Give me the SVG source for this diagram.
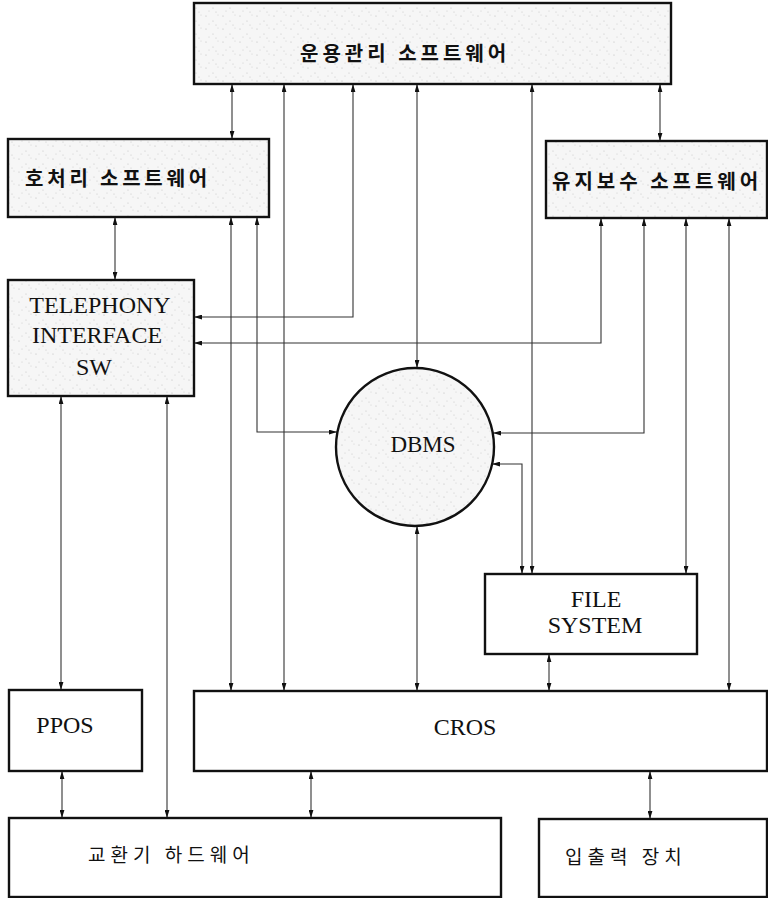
<svg xmlns="http://www.w3.org/2000/svg" width="768" height="898" viewBox="0 0 768 898">
<style>
.box{fill:#fff;stroke:#111;stroke-width:2.4}
.dot{fill:url(#stip);stroke:#111;stroke-width:2.4}
.ln{fill:none;stroke:#333;stroke-width:1.1;marker-start:url(#ah);marker-end:url(#ah)}
.en{font-family:"Liberation Serif","Times New Roman",serif;font-size:24px;fill:#111;text-anchor:middle}
.kb{font-family:"Noto Sans CJK KR",sans-serif;font-size:20px;font-weight:700;fill:#111;letter-spacing:4px}
.kr{font-family:"Noto Sans CJK KR",sans-serif;font-size:19px;font-weight:400;fill:#111;letter-spacing:5px}
</style>
<defs>
<pattern id="stip" width="17" height="13" patternUnits="userSpaceOnUse">
<rect width="17" height="13" fill="#f6f6f6"/>
<circle cx="2" cy="3" r="0.6" fill="#bbb"/>
<circle cx="9" cy="8" r="0.6" fill="#c4c4c4"/>
<circle cx="14" cy="2" r="0.5" fill="#ccc"/>
<circle cx="5" cy="11" r="0.5" fill="#c8c8c8"/>
<circle cx="12" cy="12" r="0.5" fill="#bdbdbd"/>
</pattern>
<marker id="ah" viewBox="0 0 10 6" refX="10" refY="3" markerWidth="8" markerHeight="5" markerUnits="userSpaceOnUse" orient="auto-start-reverse">
<path d="M0,0 L10,3 L0,6 Z" fill="#111"/>
</marker>
</defs>
<g id="connectors">
<path class="ln" d="M232,84 V139"/>
<path class="ln" d="M284,84 V691"/>
<path class="ln" d="M353,84 V317 H194"/>
<path class="ln" d="M417,84 V368"/>
<path class="ln" d="M532,84 V574"/>
<path class="ln" d="M660,84 V141"/>
<path class="ln" d="M601,218 V343 H194"/>
<path class="ln" d="M644,218 V433 H493"/>
<path class="ln" d="M686,218 V574"/>
<path class="ln" d="M729,218 V691"/>
<path class="ln" d="M115,217 V280"/>
<path class="ln" d="M231,217 V691"/>
<path class="ln" d="M257,217 V432 H337"/>
<path class="ln" d="M61,396 V690"/>
<path class="ln" d="M167,396 V818"/>
<path class="ln" d="M62,771 V818"/>
<path class="ln" d="M311,771 V818"/>
<path class="ln" d="M650,771 V819"/>
<path class="ln" d="M549,654 V691"/>
<path class="ln" d="M417,526 V691"/>
<path class="ln" d="M492,464 H522 V574"/>
</g>
<g id="oam">
<rect class="dot" x="194" y="3" width="477" height="81"/>
<text class="kb" x="300" y="61">운용관리 소프트웨어</text>
</g>
<g id="callproc">
<rect class="dot" x="8" y="139" width="261" height="78"/>
<text class="kb" x="25" y="186" style="letter-spacing:3.8px">호처리 소프트웨어</text>
</g>
<g id="maint">
<rect class="dot" x="546" y="141" width="221" height="77"/>
<text class="kb" x="552" y="189">유지보수 소프트웨어</text>
</g>
<g id="telephony">
<rect class="dot" x="8" y="280" width="186" height="116"/>
<text class="en" x="100" y="313">TELEPHONY</text>
<text class="en" x="97" y="343">INTERFACE</text>
<text class="en" x="94" y="375">SW</text>
</g>
<g id="dbms">
<circle class="dot" cx="415" cy="447" r="79"/>
<text class="en" x="423" y="452" style="font-size:23px">DBMS</text>
</g>
<g id="filesystem">
<rect class="box" x="485" y="574" width="212" height="80"/>
<text class="en" x="596" y="607">FILE</text>
<text class="en" x="595" y="633">SYSTEM</text>
</g>
<g id="ppos">
<rect class="box" x="9" y="690" width="133" height="81"/>
<text class="en" x="65" y="733">PPOS</text>
</g>
<g id="cros">
<rect class="box" x="194" y="691" width="573" height="80"/>
<text class="en" x="465" y="735">CROS</text>
</g>
<g id="switchhw">
<rect class="box" x="9" y="818" width="492" height="79"/>
<text class="kr" x="88" y="862">교환기 하드웨어</text>
</g>
<g id="io">
<rect class="box" x="539" y="819" width="228" height="78"/>
<text class="kr" x="565" y="864">입출력 장치</text>
</g>
</svg>
